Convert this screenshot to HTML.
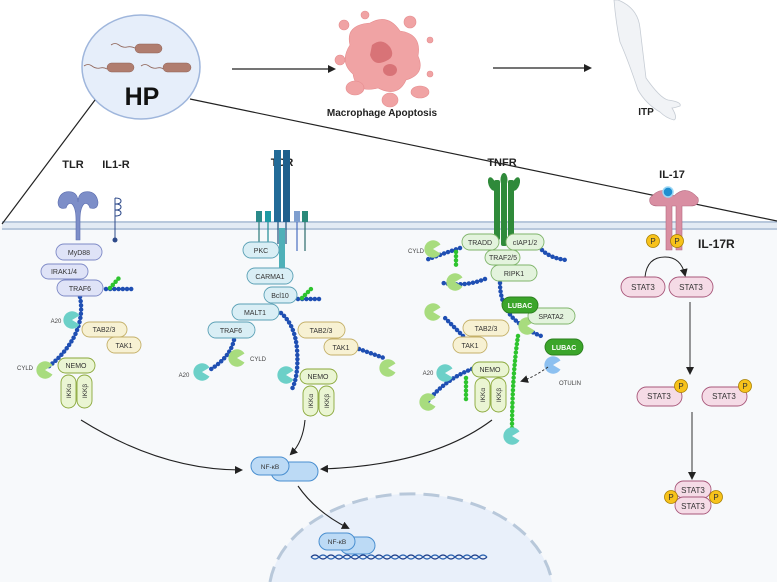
<!DOCTYPE html>
<html><head><meta charset="utf-8"><style>
html,body{margin:0;padding:0;background:#fff}
svg{display:block}
text{font-family:"Liberation Sans",sans-serif}
</style></head><body>
<svg width="777" height="582" viewBox="0 0 777 582" xmlns="http://www.w3.org/2000/svg">
<defs>
<marker id="ah" markerWidth="8" markerHeight="8" refX="6" refY="4" orient="auto" markerUnits="userSpaceOnUse"><path d="M0,0 L8,4 L0,8 z" fill="#222"/></marker>
<symbol id="pac" viewBox="-9 -9 18 18" overflow="visible"><path d="M0,0 L7.5,-4.5 A8.7,8.7 0 1 0 7.5,4.5 Z"/></symbol>
</defs>
<rect x="0" y="226" width="777" height="356" fill="#f7f9fb"/>
<rect x="2" y="221" width="775" height="9" fill="#e3ebf4"/>
<line x1="2" y1="222" x2="777" y2="222" stroke="#a9bdd3" stroke-width="1.5"/>
<line x1="2" y1="229" x2="777" y2="229" stroke="#a9bdd3" stroke-width="1.5"/>
<!-- nucleus -->
<path d="M270,582 A142,100 0 0 1 552,582 Z" fill="#e9f0fa"/>
<path d="M270,582 A142,100 0 0 1 552,582" fill="none" stroke="#b8c8da" stroke-width="3" stroke-dasharray="16,8"/>
<!-- HP circle -->
<ellipse cx="141" cy="67" rx="59" ry="52" fill="#e6eefa" stroke="#9fb6dc" stroke-width="1.5"/>
<g fill="#b07d6f" stroke="#8e6256" stroke-width="0.5">
<rect x="135" y="44" width="27" height="9" rx="4.5"/><rect x="107" y="63" width="27" height="9" rx="4.5"/><rect x="163" y="63" width="28" height="9" rx="4.5"/></g>
<g fill="none" stroke="#8e6256" stroke-width="0.8">
<path d="M111,45 q4,-3 8,0 t8,2 t8,1"/><path d="M84,66 q4,-3 8,0 t8,2 t7,1"/><path d="M141,66 q4,-3 8,0 t8,2 t6,1"/></g>
<text x="142" y="105" font-size="25" font-weight="bold" text-anchor="middle" fill="#111">HP</text>
<line x1="232" y1="69" x2="334" y2="69" stroke="#222" stroke-width="1.2" marker-end="url(#ah)"/>
<line x1="493" y1="68" x2="590" y2="68" stroke="#222" stroke-width="1.2" marker-end="url(#ah)"/>
<g fill="#f0a3a4" stroke="#e58c8e" stroke-width="0.6">
<path d="M350,45 q-5,-20 20,-22 q18,-10 30,8 q22,3 18,25 q8,18 -12,24 q-8,18 -28,8 q-22,6 -25,-14 q-14,-12 -3,-29 z"/>
<circle cx="344" cy="25" r="5"/><circle cx="365" cy="15" r="4"/><circle cx="410" cy="22" r="6"/><circle cx="430" cy="40" r="3"/>
<ellipse cx="420" cy="92" rx="9" ry="6"/><ellipse cx="390" cy="100" rx="8" ry="7"/><ellipse cx="355" cy="88" rx="9" ry="7"/><circle cx="340" cy="60" r="5"/><circle cx="430" cy="74" r="3"/></g>
<path d="M372,45 q10,-8 18,2 q6,10 -4,14 q-12,6 -16,-6 z" fill="#d87377"/>
<ellipse cx="390" cy="70" rx="7" ry="6" fill="#d87377"/>
<text x="382" y="116" font-size="10" font-weight="bold" text-anchor="middle" fill="#222">Macrophage Apoptosis</text>
<path d="M618,0 q20,8 22,28 q4,34 6,50 q14,20 22,22 q14,2 12,6 q-6,2 -8,2 q6,10 2,12 q-8,-2 -14,-8 q-14,-8 -22,-22 q-10,-30 -18,-48 q-4,-18 -6,-42 z" fill="#f1f3f6" stroke="#c6ccd4" stroke-width="0.8"/>
<text x="646" y="115" font-size="10" font-weight="bold" text-anchor="middle" fill="#222">ITP</text>
<line x1="95" y1="100" x2="2" y2="224" stroke="#222" stroke-width="1.2"/>
<line x1="190" y1="99" x2="777" y2="221" stroke="#222" stroke-width="1.2"/>
<g font-size="11" font-weight="bold" fill="#222" text-anchor="middle">
<text x="73" y="168">TLR</text><text x="116" y="168">IL1-R</text><text x="282" y="166">TCR</text><text x="502" y="166">TNFR</text><text x="672" y="178">IL-17</text></g>
<text x="698" y="248" font-size="12" font-weight="bold" fill="#222">IL-17R</text>
<path d="M58,202 q2,-12 14,-10 q6,2 6,10 q0,-8 6,-10 q12,-2 14,10 q0,8 -8,6 q-2,-6 -6,-4 q-4,4 -4,16 l0,20 l-4,0 l0,-20 q0,-12 -4,-16 q-4,-2 -6,4 q-8,2 -8,-6 z" fill="#7d8ec8" stroke="#5a6cae" stroke-width="0.6"/>
<path d="M115,198 q6,0 6,3 q0,3 -6,3 q6,0 6,3 q0,3 -6,3 q6,0 6,3 q0,3 -6,3 M115,198 L115,240" fill="none" stroke="#2e4a8a" stroke-width="1"/>
<circle cx="115" cy="240" r="2.5" fill="#2e4a8a"/>
<rect x="274" y="150" width="7" height="72" fill="#226b98"/><rect x="283" y="150" width="7" height="72" fill="#1e5f8c"/>
<rect x="256" y="211" width="6" height="11" fill="#2a8a8a"/><rect x="265" y="211" width="6" height="11" fill="#1e9aa4"/><rect x="294" y="211" width="6" height="11" fill="#7f9fcf"/><rect x="302" y="211" width="6" height="11" fill="#2a8a7a"/>
<g stroke-width="1.2"><line x1="259" y1="222" x2="259" y2="246" stroke="#2a7a7a"/><line x1="268" y1="222" x2="268" y2="246" stroke="#1e8a94"/><line x1="297" y1="222" x2="297" y2="251" stroke="#4a6fc0"/><line x1="305" y1="222" x2="305" y2="251" stroke="#2a6a6a"/><line x1="278" y1="222" x2="278" y2="244" stroke="#1e4f7c"/><line x1="286" y1="222" x2="286" y2="244" stroke="#1e4f7c"/></g>
<rect x="279" y="228" width="6" height="44" fill="#4fb0b8"/>
<g fill="#2f8a3a"><rect x="494" y="180" width="6" height="60" rx="2"/><rect x="501" y="176" width="6" height="70" rx="2"/><rect x="508" y="180" width="6" height="60" rx="2"/>
<ellipse cx="492" cy="184" rx="3.5" ry="7" transform="rotate(-20 492 184)"/><ellipse cx="504" cy="180" rx="3.5" ry="7"/><ellipse cx="516" cy="184" rx="3.5" ry="7" transform="rotate(20 516 184)"/></g>
<path d="M650,198 q12,-14 24,-2 q12,-12 24,2 q2,8 -8,8 l-8,0 l0,44 l-6,0 l0,-44 l-4,0 l0,44 l-6,0 l0,-44 l-8,0 q-10,0 -8,-8 z" fill="#d98ea2" stroke="#b36a80" stroke-width="0.6"/>
<circle cx="668" cy="192" r="5" fill="#1f8fd0" stroke="#9bd7f5" stroke-width="1.5"/>
<g fill="none" stroke="#1f4fb3" stroke-width="4.5" stroke-linecap="round" stroke-dasharray="0 4.2">
<path d="M106,289 L132,289"/>
<path d="M80,297 q4,20 -6,40 q-10,18 -26,30"/>
<path d="M298,299 L323,299"/>
<path d="M281,313 q14,12 16,36 q2,28 -6,42"/>
<path d="M234,340 q-4,18 -26,31"/>
<path d="M359,349 L384,358"/>
<path d="M485,279 q-20,8 -42,4"/>
<path d="M460,248 q-18,6 -34,12"/>
<path d="M542,250 q8,8 24,10"/>
<path d="M500,283 q0,20 12,34 q14,14 32,20"/>
<path d="M463,336 L444,317"/>
<path d="M472,369 q-26,10 -44,32"/></g>
<g fill="none" stroke="#2ec42e" stroke-width="4.5" stroke-linecap="round" stroke-dasharray="0 4.2">
<path d="M110,288 L119,278"/><path d="M302,298 L312,288"/>
<path d="M456,252 L456,266"/>
<path d="M518,336 q-6,40 -6,96"/>
<path d="M466,378 L466,400"/></g>
<g>
<use href="#pac" x="63" y="311" width="18" height="18" fill="#6cd0c8"/>
<use href="#pac" x="36" y="361" width="18" height="18" fill="#a8dc7e"/>
<use href="#pac" x="193" y="363" width="18" height="18" fill="#6cd0c8"/>
<use href="#pac" x="228" y="349" width="18" height="18" fill="#a8dc7e"/>
<use href="#pac" x="277" y="366" width="18" height="18" fill="#6cd0c8"/>
<use href="#pac" x="379" y="359" width="18" height="18" fill="#a8dc7e"/>
<use href="#pac" x="424" y="240" width="18" height="18" fill="#a8dc7e"/>
<use href="#pac" x="446" y="273" width="18" height="18" fill="#a8dc7e"/>
<use href="#pac" x="424" y="303" width="18" height="18" fill="#a8dc7e"/>
<use href="#pac" x="518" y="317" width="18" height="18" fill="#a8dc7e"/>
<use href="#pac" x="544" y="356" width="18" height="18" fill="#8cc0f0"/>
<use href="#pac" x="436" y="364" width="18" height="18" fill="#6cd0c8"/>
<use href="#pac" x="419" y="393" width="18" height="18" fill="#a8dc7e"/>
<use href="#pac" x="503" y="427" width="18" height="18" fill="#6cd0c8"/>
</g>
<g font-size="7" text-anchor="middle" fill="#333">
<g fill="#dfe3f7" stroke="#7d89c6" stroke-width="0.9">
<rect x="56" y="244" width="46" height="16" rx="8"/><rect x="41" y="264" width="47" height="15" rx="7.5"/><rect x="57" y="280" width="46" height="16" rx="8"/></g>
<text x="79" y="255">MyD88</text><text x="64" y="274">IRAK1/4</text><text x="80" y="291">TRAF6</text>
<g fill="#d9eef5" stroke="#5aa0b5" stroke-width="0.9">
<rect x="243" y="242" width="36" height="16" rx="8"/><rect x="247" y="268" width="46" height="16" rx="8"/><rect x="264" y="287" width="33" height="16" rx="8"/><rect x="232" y="304" width="47" height="16" rx="8"/><rect x="208" y="322" width="47" height="16" rx="8"/></g>
<text x="261" y="253">PKC</text><text x="270" y="279">CARMA1</text><text x="280" y="298">Bcl10</text><text x="255" y="315">MALT1</text><text x="231" y="333">TRAF6</text>
<g fill="#f7f1d3" stroke="#c4b068" stroke-width="0.9">
<rect x="82" y="322" width="45" height="15" rx="7.5"/><rect x="107" y="337" width="34" height="16" rx="8"/>
<rect x="298" y="322" width="47" height="16" rx="8"/><rect x="324" y="339" width="34" height="16" rx="8"/>
<rect x="463" y="320" width="46" height="16" rx="8"/><rect x="453" y="337" width="34" height="16" rx="8"/></g>
<text x="104" y="332">TAB2/3</text><text x="124" y="348">TAK1</text><text x="321" y="333">TAB2/3</text><text x="341" y="350">TAK1</text><text x="486" y="331">TAB2/3</text><text x="470" y="348">TAK1</text>
<g fill="#e3f3dd" stroke="#7fb46a" stroke-width="0.9">
<rect x="462" y="234" width="37" height="16" rx="8"/><rect x="506" y="234" width="38" height="16" rx="8"/><rect x="485" y="250" width="35" height="15" rx="7.5"/><rect x="491" y="265" width="46" height="16" rx="8"/><rect x="528" y="308" width="47" height="16" rx="8"/></g>
<text x="480" y="245">TRADD</text><text x="525" y="245">cIAP1/2</text><text x="503" y="260">TRAF2/5</text><text x="514" y="276">RIPK1</text><text x="551" y="319">SPATA2</text>
<g fill="#3ba52a" stroke="#2b7f1f" stroke-width="0.9"><rect x="502" y="297" width="36" height="16" rx="8"/><rect x="545" y="339" width="38" height="16" rx="8"/></g>
<text x="520" y="308" fill="#fff" font-weight="bold">LUBAC</text><text x="564" y="350" fill="#fff" font-weight="bold">LUBAC</text>
<g fill="#eaf5d3" stroke="#8aa83a" stroke-width="0.9">
<rect x="58" y="358" width="37" height="15" rx="7.5"/><rect x="61" y="375" width="15" height="33" rx="7.5"/><rect x="77" y="375" width="15" height="33" rx="7.5"/>
<rect x="300" y="369" width="37" height="15" rx="7.5"/><rect x="303" y="386" width="15" height="30" rx="7.5"/><rect x="319" y="386" width="15" height="30" rx="7.5"/>
<rect x="472" y="362" width="37" height="15" rx="7.5"/><rect x="475" y="378" width="15" height="34" rx="7.5"/><rect x="491" y="378" width="15" height="34" rx="7.5"/></g>
<text x="76" y="368">NEMO</text><text x="318" y="379">NEMO</text><text x="490" y="372">NEMO</text>
<g font-size="6.5">
<text transform="translate(71,391) rotate(-90)">IKKα</text><text transform="translate(87,391) rotate(-90)">IKKβ</text>
<text transform="translate(313,401) rotate(-90)">IKKα</text><text transform="translate(329,401) rotate(-90)">IKKβ</text>
<text transform="translate(485,395) rotate(-90)">IKKα</text><text transform="translate(501,395) rotate(-90)">IKKβ</text></g>
<g font-size="6" fill="#444">
<text x="56" y="323">A20</text><text x="25" y="370">CYLD</text><text x="184" y="377">A20</text><text x="258" y="361">CYLD</text>
<text x="416" y="253">CYLD</text><text x="428" y="375">A20</text><text x="570" y="385">OTULIN</text></g>
</g>
<path d="M548,367 q-14,10 -26,14" fill="none" stroke="#222" stroke-width="0.9" stroke-dasharray="2.5,2" marker-end="url(#ah)"/>
<g fill="#f7c21b" stroke="#a88000" stroke-width="0.8"><circle cx="653" cy="241" r="6.5"/><circle cx="677" cy="241" r="6.5"/></g>
<g font-size="8" text-anchor="middle" fill="#333"><text x="653" y="244">P</text><text x="677" y="244">P</text></g>
<path d="M645,277 q2,-20 20,-20 q16,0 20,18" fill="none" stroke="#222" stroke-width="1" marker-end="url(#ah)"/>
<g fill="#f5dbe6" stroke="#a8577a" stroke-width="0.9">
<rect x="621" y="277" width="44" height="20" rx="10"/><rect x="669" y="277" width="44" height="20" rx="10"/>
<rect x="637" y="387" width="45" height="19" rx="9.5"/><rect x="702" y="387" width="45" height="19" rx="9.5"/>
<rect x="675" y="481" width="36" height="17" rx="8.5"/><rect x="675" y="497" width="36" height="17" rx="8.5"/></g>
<g font-size="8" text-anchor="middle" fill="#333">
<text x="643" y="290">STAT3</text><text x="691" y="290">STAT3</text><text x="659" y="399">STAT3</text><text x="724" y="399">STAT3</text><text x="693" y="493">STAT3</text><text x="693" y="509">STAT3</text></g>
<g fill="#f7c21b" stroke="#a88000" stroke-width="0.8"><circle cx="681" cy="386" r="6.5"/><circle cx="745" cy="386" r="6.5"/><circle cx="671" cy="497" r="6.5"/><circle cx="716" cy="497" r="6.5"/></g>
<g font-size="8" text-anchor="middle" fill="#333"><text x="681" y="389">P</text><text x="745" y="389">P</text><text x="671" y="500">P</text><text x="716" y="500">P</text></g>
<line x1="690" y1="302" x2="690" y2="373" stroke="#333" stroke-width="1" marker-end="url(#ah)"/>
<line x1="692" y1="412" x2="692" y2="478" stroke="#333" stroke-width="1" marker-end="url(#ah)"/>
<g fill="#bcdaf5" stroke="#4a8fd0" stroke-width="1"><rect x="271" y="462" width="47" height="19" rx="9.5"/><rect x="251" y="457" width="38" height="18" rx="9"/>
<rect x="340" y="537" width="35" height="17" rx="8.5"/><rect x="319" y="533" width="36" height="17" rx="8.5"/></g>
<text x="270" y="469" font-size="6.5" text-anchor="middle" fill="#333">NF-κB</text>
<text x="337" y="544" font-size="6.5" text-anchor="middle" fill="#333">NF-κB</text>
<path d="M311,557 q4,-4 8,0 t8,0 t8,0 t8,0 t8,0 t8,0 t8,0 t8,0 t8,0 t8,0 t8,0 t8,0 t8,0 t8,0 t8,0 t8,0 t8,0 t8,0 t8,0 t8,0 t8,0 t8,0" fill="none" stroke="#1e3f8a" stroke-width="1.2"/>
<path d="M311,557 q4,4 8,0 t8,0 t8,0 t8,0 t8,0 t8,0 t8,0 t8,0 t8,0 t8,0 t8,0 t8,0 t8,0 t8,0 t8,0 t8,0 t8,0 t8,0 t8,0 t8,0 t8,0 t8,0" fill="none" stroke="#2a62b0" stroke-width="1.2"/>
<g fill="none" stroke="#222" stroke-width="1.1">
<path d="M81,420 q80,50 160,50" marker-end="url(#ah)"/>
<path d="M305,420 q-2,22 -14,34" marker-end="url(#ah)"/>
<path d="M492,420 q-60,45 -170,49" marker-end="url(#ah)"/>
<path d="M298,486 q18,26 50,42" marker-end="url(#ah)"/></g>
</svg>
</body></html>
